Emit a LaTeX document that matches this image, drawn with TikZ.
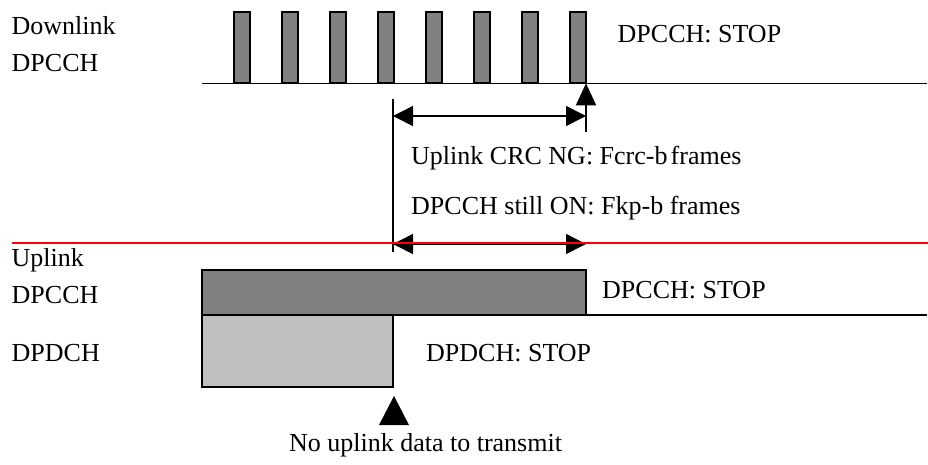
\documentclass[tikz,border=0pt]{standalone}
\usepackage{fontspec}
\setmainfont{Liberation Serif}
\usetikzlibrary{arrows.meta}
\definecolor{darkpulse}{RGB}{128,128,128}
\definecolor{lightpulse}{RGB}{192,192,192}
\tikzset{
  lbl/.style={anchor=base west, inner sep=0pt, font=\fontsize{26}{30}\selectfont},
  pulse/.style={draw=black, line width=1.8pt, fill=darkpulse},
  axisline/.style={line width=1.6pt},
  dimarrow/.style={line width=1.6pt, {Triangle[length=20pt,width=20pt]}-{Triangle[length=20pt,width=20pt]}},
  uparrow/.style={line width=1.6pt, -{Triangle[length=22pt,width=20pt]}},
  redline/.style={draw=red, line width=2pt}
}
\begin{document}
\begin{tikzpicture}[x=1pt,y=-1pt]
\useasboundingbox (0,0) rectangle (928,464);
% Downlink pulses
\foreach \i in {0,...,7}{
  \draw[pulse] (234+48*\i,12) rectangle (250+48*\i,83.3);
}
% coordinates
\coordinate (dlstart) at (202,83.3);
\coordinate (dlend) at (927,83.3);
\coordinate (stopbase) at (586,132);
\coordinate (stoptip) at (586,83.3);
\coordinate (vtop) at (393,99);
\coordinate (vbot) at (393,252);
\coordinate (crcL) at (393,116);
\coordinate (crcR) at (586,116);
\coordinate (kpL) at (393,244);
\coordinate (kpR) at (586,244);
\coordinate (redL) at (12,242.7);
\coordinate (redR) at (928,242.7);
\coordinate (ulend) at (927,315);
\coordinate (ulcorner) at (586,315);
% downlink baseline
\draw[axisline] (dlstart) -- (dlend);
% stop arrow
\draw[uparrow] (stopbase) -- (stoptip);
% vertical marker
\draw[axisline] (vtop) -- (vbot);
% dimension arrows
\draw[dimarrow] (crcL) -- (crcR);
\draw[dimarrow] (kpL) -- (kpR);
% uplink bars
\draw[pulse] (202,270) rectangle (586,315);
\draw[draw=black, line width=1.8pt, fill=lightpulse] (202,315) rectangle (393,387);
\draw[axisline] (ulcorner) -- (ulend);
% red separator
\draw[redline] (redL) -- (redR);
% triangle marker
\fill (394,396) -- (409,425) -- (379,425) -- cycle;
% labels
\node[lbl] (dl) at (11.5,34.3) {Downlink};
\node[lbl] (dldpcch) at (11.5,71.7) {DPCCH};
\node[lbl] (dlstop) at (617.5,42.3) {DPCCH: STOP};
\node[lbl] (crc) at (411,164) {Uplink CRC NG: Fcrc-b\hspace{0.12em}frames};
\node[lbl] (kp) at (411,214.3) {DPCCH still ON: Fkp-b frames};
\node[lbl] (ul) at (11.5,266.7) {Uplink};
\node[lbl] (uldpcch) at (11.5,303) {DPCCH};
\node[lbl] (uldpdch) at (11.5,361.7) {DPDCH};
\node[lbl] (ulstop) at (602,298.3) {DPCCH: STOP};
\node[lbl] (dpdchstop) at (426,361.7) {DPDCH: STOP};
\node[anchor=base, inner sep=0pt, font=\fontsize{26}{30}\selectfont] (nodata) at (425.5,451.7) {No uplink data to transmit};
\end{tikzpicture}
\end{document}
